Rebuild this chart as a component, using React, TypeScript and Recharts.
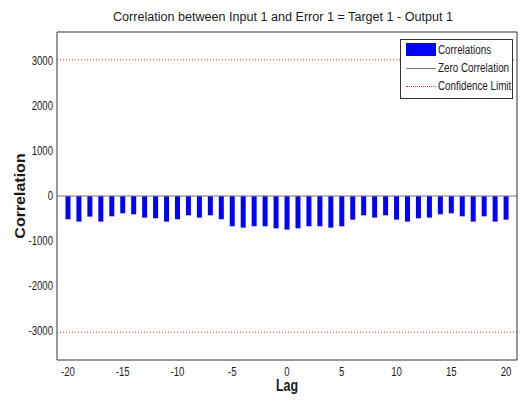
import React from 'react';
import { ComposedChart, Bar, XAxis, YAxis, ReferenceLine } from 'recharts';

const lags = [
  -20, -19, -18, -17, -16, -15, -14, -13, -12, -11,
  -10, -9, -8, -7, -6, -5, -4, -3, -2, -1,
  0,
  1, 2, 3, 4, 5, 6, 7, 8, 9, 10,
  11, 12, 13, 14, 15, 16, 17, 18, 19, 20,
];
const correlations = [
  -518, -570, -459, -570, -452, -385, -407, -481, -496, -570,
  -518, -430, -481, -430, -518, -674, -704, -674, -674, -719,
  -748,
  -719, -674, -674, -704, -674, -526, -430, -481, -430, -526,
  -570, -496, -481, -407, -385, -452, -570, -452, -570, -526,
];
const confidenceLimit = 3030;
const xTicks = [-20, -15, -10, -5, 0, 5, 10, 15, 20];
const yTicks = [-3000, -2000, -1000, 0, 1000, 2000, 3000];
const xDomain = [-21, 21];
const yDomain = [-3650, 3650];
const titleText = 'Correlation between Input 1 and Error 1 = Target 1 - Output 1';
const xLabelText = 'Lag';
const yLabelText = 'Correlation';
const legendLabels = ['Correlations', 'Zero Correlation', 'Confidence Limit'];

const data = lags.map((lag, i) => ({ lag, value: correlations[i] }));

const SANS = '"Liberation Sans", Arial, sans-serif';
const AXIS = '#333333';
const TEXT = '#1a1a1a';
const SQUEEZE = 0.8;

const XTick = (props: any) => {
  const { x, y, payload } = props;
  return (
    <text
      x={0}
      y={0}
      transform={`translate(${x},${y}) scale(${SQUEEZE},1)`}
      textAnchor="middle"
      dy="0.71em"
      fontFamily={SANS}
      fontSize={12}
      fill={TEXT}
    >
      {payload.value}
    </text>
  );
};

const YTick = (props: any) => {
  const { x, y, payload } = props;
  return (
    <text
      x={0}
      y={0}
      transform={`translate(${x},${y}) scale(${SQUEEZE},1)`}
      textAnchor="end"
      dy="0.355em"
      fontFamily={SANS}
      fontSize={12}
      fill={TEXT}
    >
      {payload.value}
    </text>
  );
};

const renderXLabel = (props: any) => {
  const vb = props.viewBox || {};
  const cx = vb.x + vb.width / 2;
  const by = vb.y + 31;
  return (
    <text
      x={0}
      y={0}
      transform={`translate(${cx},${by}) scale(0.78,1)`}
      textAnchor="middle"
      fontFamily={SANS}
      fontWeight="bold"
      fontSize={16}
      fill={TEXT}
    >
      {xLabelText}
    </text>
  );
};

const renderYLabel = (props: any) => {
  const vb = props.viewBox || {};
  const cx = vb.x + 3;
  const cy = vb.y + vb.height / 2;
  return (
    <text
      x={0}
      y={0}
      transform={`translate(${cx},${cy}) rotate(-90) scale(1,0.88)`}
      textAnchor="middle"
      dominantBaseline="central"
      fontFamily={SANS}
      fontWeight="bold"
      fontSize={16}
      fill={TEXT}
    >
      {yLabelText}
    </text>
  );
};

const Legend = () => {
  const rowCenters = [11, 29, 47];
  return (
    <div
      style={{
        position: 'absolute',
        left: 400,
        top: 39,
        width: 111,
        height: 58,
        border: '1px solid #333',
        background: '#fff',
        fontFamily: SANS,
        fontSize: 12,
        color: TEXT,
      }}
    >
      <div style={{ position: 'absolute', left: 5, top: 3, width: 30, height: 13, background: '#0000ff' }} />
      <div style={{ position: 'absolute', left: 5, top: rowCenters[1] - 1, width: 30, height: 0, borderTop: '1px solid #777' }} />
      <div style={{ position: 'absolute', left: 5, top: rowCenters[2] - 1, width: 30, height: 0, borderTop: '1px dotted #e03030' }} />
      {legendLabels.map((t, i) => (
        <div
          key={t}
          style={{
            position: 'absolute',
            left: 37,
            top: rowCenters[i] - 9,
            height: 16,
            lineHeight: '16px',
            whiteSpace: 'nowrap',
            transform: `scaleX(0.82)`,
            transformOrigin: 'left center',
          }}
        >
          {t}
        </div>
      ))}
    </div>
  );
};

export default function App() {
  return (
    <div style={{ position: 'fixed', left: 0, top: 0, width: 520, height: 402, background: '#fff' }}>
      <ComposedChart
        width={520}
        height={402}
        data={data}
        margin={{ top: 32, right: 3, bottom: 14, left: 17 }}
      >
        <XAxis
          xAxisId="b"
          dataKey="lag"
          type="number"
          domain={xDomain}
          ticks={xTicks}
          interval={0}
          allowDataOverflow
          height={28}
          tickLine={false}
          tickSize={0}
          tickMargin={7}
          axisLine={{ stroke: AXIS }}
          tick={<XTick />}
          label={{ content: renderXLabel }}
        />
        <XAxis
          xAxisId="bm"
          dataKey="lag"
          type="number"
          orientation="bottom"
          mirror
          domain={xDomain}
          ticks={xTicks}
          interval={0}
          allowDataOverflow
          height={28}
          tick={false}
          tickSize={5}
          axisLine={false}
          tickLine={{ stroke: AXIS }}
        />
        <XAxis
          xAxisId="t"
          dataKey="lag"
          type="number"
          orientation="top"
          mirror
          domain={xDomain}
          ticks={xTicks}
          interval={0}
          allowDataOverflow
          height={28}
          tick={false}
          tickSize={5}
          axisLine={{ stroke: AXIS }}
          tickLine={{ stroke: AXIS }}
        />
        <YAxis
          yAxisId="l"
          type="number"
          domain={yDomain}
          ticks={yTicks}
          interval={0}
          allowDataOverflow
          width={40}
          tickLine={false}
          tickSize={0}
          tickMargin={4}
          axisLine={{ stroke: AXIS }}
          tick={<YTick />}
          label={{ content: renderYLabel }}
        />
        <YAxis
          yAxisId="lm"
          type="number"
          orientation="left"
          mirror
          domain={yDomain}
          ticks={yTicks}
          interval={0}
          allowDataOverflow
          width={40}
          tick={false}
          tickSize={5}
          axisLine={false}
          tickLine={{ stroke: AXIS }}
        />
        <YAxis
          yAxisId="r"
          type="number"
          orientation="right"
          mirror
          domain={yDomain}
          ticks={yTicks}
          interval={0}
          allowDataOverflow
          width={40}
          tick={false}
          tickSize={5}
          axisLine={{ stroke: AXIS }}
          tickLine={{ stroke: AXIS }}
        />
        <ReferenceLine xAxisId="b" yAxisId="l" y={confidenceLimit} stroke="#e03030" strokeDasharray="1 2" />
        <ReferenceLine xAxisId="b" yAxisId="l" y={-confidenceLimit} stroke="#e03030" strokeDasharray="1 2" />
        <Bar
          xAxisId="b"
          yAxisId="l"
          dataKey="value"
          fill="#0000ff"
          barSize={5}
          isAnimationActive={false}
        />
        <ReferenceLine xAxisId="b" yAxisId="l" y={0} stroke="#777777" />
      </ComposedChart>
      <svg
        width={520}
        height={30}
        style={{ position: 'absolute', left: 0, top: 0, pointerEvents: 'none' }}
      >
        <text
          x={283}
          y={21}
          textAnchor="middle"
          fontFamily={SANS}
          fontSize={12.5}
          fill={TEXT}
          textLength={340}
          lengthAdjust="spacingAndGlyphs"
        >
          {titleText}
        </text>
      </svg>
      <Legend />
    </div>
  );
}
